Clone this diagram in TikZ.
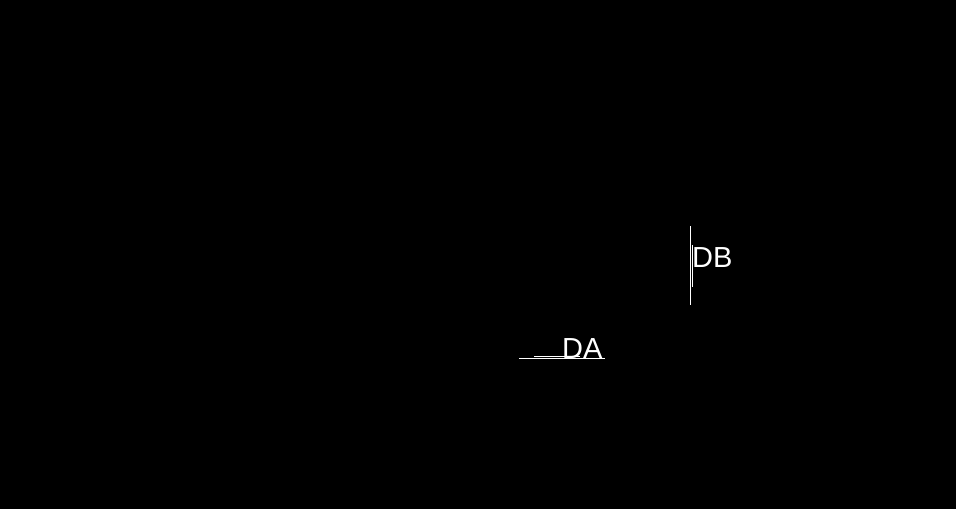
\documentclass[tikz,border=0pt]{standalone}
\usepackage{fontspec}
\setmainfont{Liberation Sans}
\begin{document}
\begin{tikzpicture}[x=1pt,y=-1pt,
  lbl/.style={text=white,font=\fontsize{29}{31}\selectfont,inner sep=0pt,anchor=base west},
  wline/.style={draw=white,line width=0.9pt}]
\fill[black] (0,0) rectangle (956,509);
\useasboundingbox (0,0) rectangle (956,509);
\node[lbl] (db) at (692,267) {DB};
\node[lbl] (da) at (562,358) {DA};
\coordinate (dbt) at (690,226);
\coordinate (dbb) at (690,305);
\coordinate (dbt2) at (692,245);
\coordinate (dbb2) at (692,287);
\coordinate (dal) at (519,358);
\coordinate (dar) at (605,358);
\coordinate (dal2) at (534,356);
\coordinate (dar2) at (580,356);
\draw[wline] (dbt) -- (dbb);
\draw[wline] (dbt2) -- (dbb2);
\draw[wline] (dal) -- (dar);
\draw[wline] (dal2) -- (dar2);
\end{tikzpicture}
\end{document}
